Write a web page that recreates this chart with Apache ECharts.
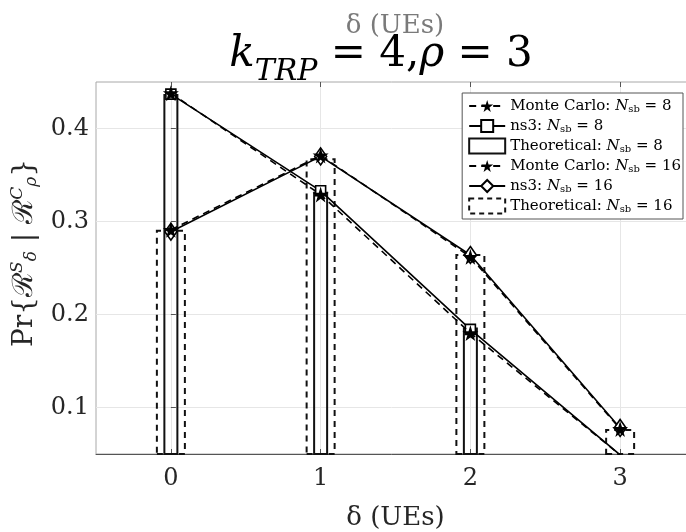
<!DOCTYPE html>
<html>
<head>
<meta charset="utf-8">
<script src="https://cdn.jsdelivr.net/npm/echarts@6/dist/echarts.min.js"></script>
<style>
html,body{margin:0;padding:0;background:#fff;}
#chart{width:686px;height:532px;}
</style>
</head>
<body>
<div id="chart"></div>
<script>
// delta values (UEs)
const deltas = [0, 1, 2, 3];
const yTicks = [0.1, 0.2, 0.3, 0.4];
// N_sb = 8
const mc8 = [0.438, 0.329, 0.180, 0.049];
const ns8 = [0.437, 0.333, 0.184, 0.049];
const theo8 = [0.437, 0.332, 0.186, 0.050];
// N_sb = 16
const mc16 = [0.291, 0.371, 0.262, 0.077];
const ns16 = [0.289, 0.370, 0.264, 0.078];
const theo16 = [0.291, 0.368, 0.265, 0.077];

const legendNames = [
	'Monte Carlo: Nsb = 8',
	'ns3: Nsb = 8',
	'Theoretical: Nsb = 8',
	'Monte Carlo: Nsb = 16',
	'ns3: Nsb = 16',
	'Theoretical: Nsb = 16'
];

const STAR = 'path://M50,0 L61,35 L98,35 L68,57 L79,91 L50,70 L21,91 L32,57 L2,35 L39,35 Z';
const serif = '"DejaVu Serif", "Liberation Serif", serif';
const txt = '#262626';

function pairs(vals){
	return deltas.map((d, i) => [d, vals[i]]);
}

let chartObj = echarts.init(document.getElementById('chart'));

let option = {
	animation: false,
	backgroundColor: '#fff',
	title: [
		{
			text: 'δ (UEs)',
			left: 395, top: 13, padding: 0,
			textAlign: 'center',
			textStyle: { fontFamily: serif, fontSize: 26, fontWeight: 'normal', color: '#7a7a7a' }
		},
		{
			text: '{k|k}{sub|TRP}{n| = 4,}{k|ρ}{n| = 3}',
			left: 381, top: 30, padding: 0,
			textAlign: 'center',
			textStyle: {
				fontFamily: serif, fontSize: 42, fontWeight: 'normal', color: '#000',
				rich: {
					k: { fontFamily: serif, fontSize: 42, fontStyle: 'italic', color: '#000', lineHeight: 50 },
					n: { fontFamily: serif, fontSize: 42, color: '#000', lineHeight: 50 },
					sub: { fontFamily: serif, fontSize: 30, fontStyle: 'italic', color: '#000', lineHeight: 30, padding: [34, 0, 0, 0] }
				}
			}
		}
	],
	grid: {
		left: 96, top: 82, width: 599, height: 372,
		outerBoundsMode: 'none',
		show: true, borderColor: '#a8a8a8', borderWidth: 1, backgroundColor: '#fff'
	},
	legend: {
		orient: 'vertical',
		right: 3, top: 93,
		align: 'left',
		data: legendNames.map((n, i) => (i === 2 || i === 5)
			? { name: n, icon: 'rect', itemStyle: { color: 'rgba(0,0,0,0)', borderColor: '#111', borderWidth: 2, borderType: i === 5 ? [5, 4] : 'solid' } }
			: { name: n }),
		itemWidth: 36, itemHeight: 15, itemGap: 2,
		padding: [4, 2, 4, 6],
		backgroundColor: '#fff',
		borderColor: '#555', borderWidth: 1,
		formatter: function (name) {
			let parts = name.split('Nsb');
			return parts[0] + '{i|N}{sub|sb}' + parts[1];
		},
		textStyle: {
			fontFamily: serif, fontSize: 15, color: '#000', lineHeight: 18,
			rich: {
				i: { fontFamily: serif, fontSize: 15, fontStyle: 'italic', color: '#000', lineHeight: 18 },
				sub: { fontFamily: serif, fontSize: 10, color: '#000', lineHeight: 18, padding: [6, 0, 0, 0] }
			}
		}
	},
	xAxis: [
		{
			type: 'value', min: -0.5, max: 3.5,
			name: 'δ (UEs)', nameLocation: 'middle', nameGap: 51,
			nameTextStyle: { fontFamily: serif, fontSize: 26, color: txt },
			axisLine: { show: true, lineStyle: { color: '#555', width: 1 } },
			axisTick: { show: true, inside: true, length: 5, lineStyle: { color: '#555' }, customValues: deltas },
			axisLabel: { fontFamily: serif, fontSize: 24, color: txt, margin: 13, customValues: deltas, formatter: v => String(v) },
			splitLine: { show: true, lineStyle: { color: '#e6e6e6', width: 1 } }
		},
		{
			type: 'value', min: -0.5, max: 3.5, position: 'top',
			axisLine: { show: false },
			axisTick: { show: true, inside: true, length: 5, lineStyle: { color: '#555' }, customValues: deltas },
			axisLabel: { show: false },
			splitLine: { show: false }
		}
	],
	yAxis: {
		type: 'value', min: 0.05, max: 0.45,
		name: 'Pr{ℛ{sup|S}{sub|δ} | ℛ{sup|C}{sub|ρ}}',
		nameLocation: 'middle', nameGap: 52, nameRotate: 90,
		nameTextStyle: {
			fontFamily: serif, fontSize: 28, color: txt, padding: [0, 0, 0, 30],
			rich: {
				sup: { fontFamily: serif, fontSize: 17, fontStyle: 'italic', color: txt, padding: [0, 0, 15, 0] },
				sub: { fontFamily: serif, fontSize: 17, fontStyle: 'italic', color: txt, padding: [13, 0, 0, 0] }
			}
		},
		axisLine: { show: false },
		axisTick: { show: true, inside: true, length: 5, lineStyle: { color: '#555' }, customValues: yTicks },
		axisLabel: { fontFamily: serif, fontSize: 24, color: txt, margin: 7, customValues: yTicks, formatter: v => v.toFixed(1) },
		splitLine: { show: true, lineStyle: { color: '#e6e6e6', width: 1 } }
	},
	series: [
		{
			name: legendNames[5], type: 'bar', xAxisIndex: 1,
			data: pairs(theo16), barWidth: 30,
			itemStyle: { color: 'rgba(0,0,0,0)', borderColor: '#111', borderWidth: 2, borderType: [6, 5] },
			z: 2
		},
		{
			name: legendNames[2], type: 'bar', xAxisIndex: 0,
			data: pairs(theo8), barWidth: 15,
			itemStyle: { color: 'rgba(0,0,0,0)', borderColor: '#111', borderWidth: 2 },
			z: 3
		},
		{
			name: legendNames[1], type: 'line', data: pairs(ns8),
			symbol: 'rect', symbolSize: 10,
			itemStyle: { color: '#fff', borderColor: '#000', borderWidth: 1.6 },
			lineStyle: { color: '#000', width: 1.6 },
			z: 5
		},
		{
			name: legendNames[4], type: 'line', data: pairs(ns16),
			symbol: 'diamond', symbolSize: [12, 17],
			itemStyle: { color: '#fff', borderColor: '#000', borderWidth: 1.6 },
			lineStyle: { color: '#000', width: 1.6 },
			z: 5
		},
		{
			name: legendNames[0], type: 'line', data: pairs(mc8),
			symbol: STAR, symbolSize: 16,
			itemStyle: { color: '#000' },
			lineStyle: { color: '#000', width: 1.6, type: [7, 5] },
			z: 7
		},
		{
			name: legendNames[3], type: 'line', data: pairs(mc16),
			symbol: STAR, symbolSize: 16,
			itemStyle: { color: '#000' },
			lineStyle: { color: '#000', width: 1.6, type: [7, 5] },
			z: 7
		}
	]
};
option && chartObj.setOption(option);
</script>
</body>
</html>
